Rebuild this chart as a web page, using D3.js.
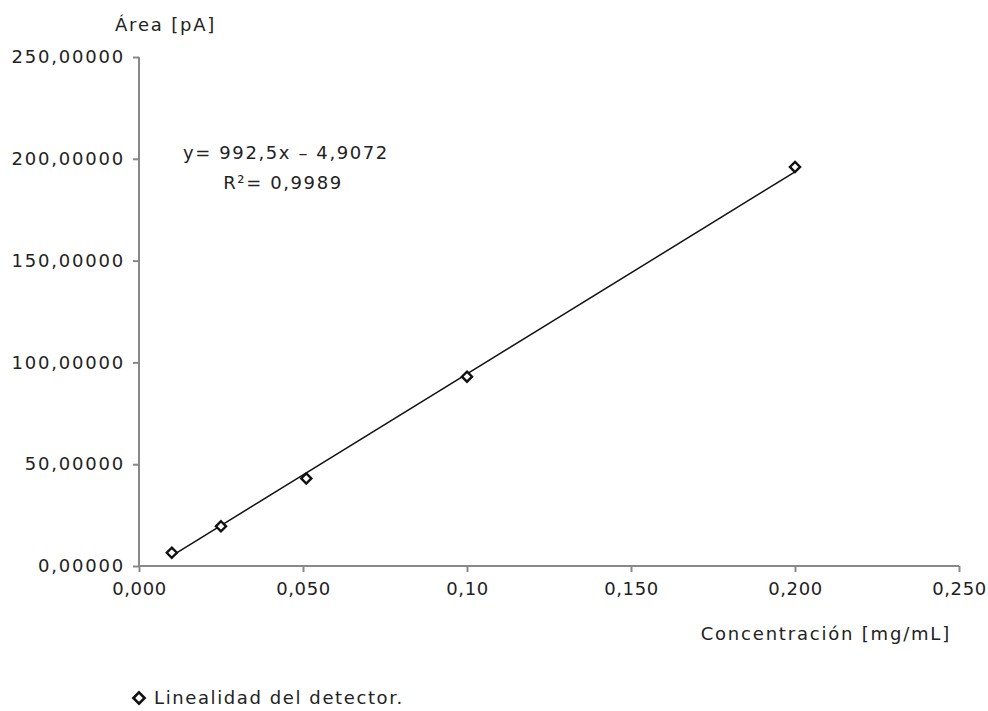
<!DOCTYPE html>
<html>
<head>
<meta charset="utf-8">
<script src="https://cdn.jsdelivr.net/npm/d3@7"></script>
<style>
  body { margin: 0; background: #fff; }
  text { font-family: "DejaVu Sans", Verdana, sans-serif; fill: #222; }
</style>
</head>
<body>
<div id="chart"></div>
<script>
// data
const conc = [0.010, 0.025, 0.051, 0.100, 0.200];
const area = [6.5, 19.5, 43.0, 93.0, 196.0];
const xTicks = [0, 0.05, 0.10, 0.15, 0.20, 0.25];
const xTickLabels = ["0,000", "0,050", "0,10", "0,150", "0,200", "0,250"];
const yTicks = [0, 50, 100, 150, 200, 250];
const yTickLabels = ["0,00000", "50,00000", "100,00000", "150,00000", "200,00000", "250,00000"];
const slope = 992.5, intercept = -4.9072;

const W = 988, H = 711;
const margin = {top: 57, right: 29, bottom: 145, left: 139};
const width = W - margin.left - margin.right,
      height = H - margin.top - margin.bottom;

const svg = d3.select("#chart")
  .append("svg")
    .attr("width", W)
    .attr("height", H)
  .append("g")
    .attr("transform", `translate(${margin.left}, ${margin.top})`);

const x = d3.scaleLinear().domain([0, 0.25]).range([0, width]);
const y = d3.scaleLinear().domain([0, 250]).range([height, 0]);

// axes
const xAxis = svg.append("g")
  .attr("transform", `translate(0, ${height})`)
  .call(d3.axisBottom(x).tickValues(xTicks).tickSize(6).tickPadding(8)
    .tickFormat((d, i) => xTickLabels[i]));
const yAxis = svg.append("g")
  .call(d3.axisLeft(y).tickValues(yTicks).tickSize(6).tickPadding(8)
    .tickFormat((d, i) => yTickLabels[i]));

[xAxis, yAxis].forEach(a => {
  a.select(".domain").attr("stroke", "#888").attr("stroke-width", 2);
  a.selectAll(".tick line").attr("stroke", "#888").attr("stroke-width", 2);
  a.selectAll(".tick text")
    .style("font-size", "18px")
    .style("letter-spacing", "1.8px")
    .attr("fill", "#222");
});
xAxis.selectAll(".domain").attr("d", `M0,0H${width}`);
xAxis.selectAll(".tick text").attr("dy", "0.85em").style("letter-spacing", "0.6px");
yAxis.selectAll(".domain").attr("d", `M0,${height}V0`);

// axis labels
svg.append("text")
  .attr("x", -24).attr("y", -26)
  .style("font-size", "18px").style("letter-spacing", "1.8px")
  .text("Área [pA]");
svg.append("text")
  .attr("x", width - 8).attr("y", height + 74)
  .attr("text-anchor", "end")
  .style("font-size", "18px").style("letter-spacing", "1.8px")
  .text("Concentración [mg/mL]");

// regression line
const xr = d3.extent(conc);
svg.append("path")
  .datum(xr)
  .attr("fill", "none")
  .attr("stroke", "#111")
  .attr("stroke-width", 1.5)
  .attr("d", d3.line().x(d => x(d)).y(d => y(slope * d + intercept)));

// points
const diamond = d3.symbol().type(d3.symbolDiamond2).size(65);
svg.selectAll(".pt")
  .data(conc.map((c, i) => ({c, a: area[i]})))
  .join("path")
    .attr("class", "pt")
    .attr("transform", d => `translate(${x(d.c)}, ${y(d.a)})`)
    .attr("d", diamond)
    .attr("fill", "#fff")
    .attr("stroke", "#111")
    .attr("stroke-width", 2.4);

// equation
svg.append("text")
  .attr("x", 147).attr("y", 102)
  .attr("text-anchor", "middle")
  .style("font-size", "18px").style("letter-spacing", "1.6px")
  .text("y= 992,5x – 4,9072");
svg.append("text")
  .attr("x", 144).attr("y", 132)
  .attr("text-anchor", "middle")
  .style("font-size", "18px").style("letter-spacing", "1.6px")
  .text("R²= 0,9989");

// legend
const lg = svg.append("g").attr("transform", `translate(${0}, ${height + 138})`);
lg.append("path")
  .attr("transform", "translate(0, -6)")
  .attr("d", d3.symbol().type(d3.symbolDiamond2).size(80))
  .attr("fill", "#fff")
  .attr("stroke", "#111")
  .attr("stroke-width", 2.6);
lg.append("text")
  .attr("x", 15).attr("y", 0)
  .style("font-size", "18px").style("letter-spacing", "1.6px")
  .text("Linealidad del detector.");
</script>
</body>
</html>
